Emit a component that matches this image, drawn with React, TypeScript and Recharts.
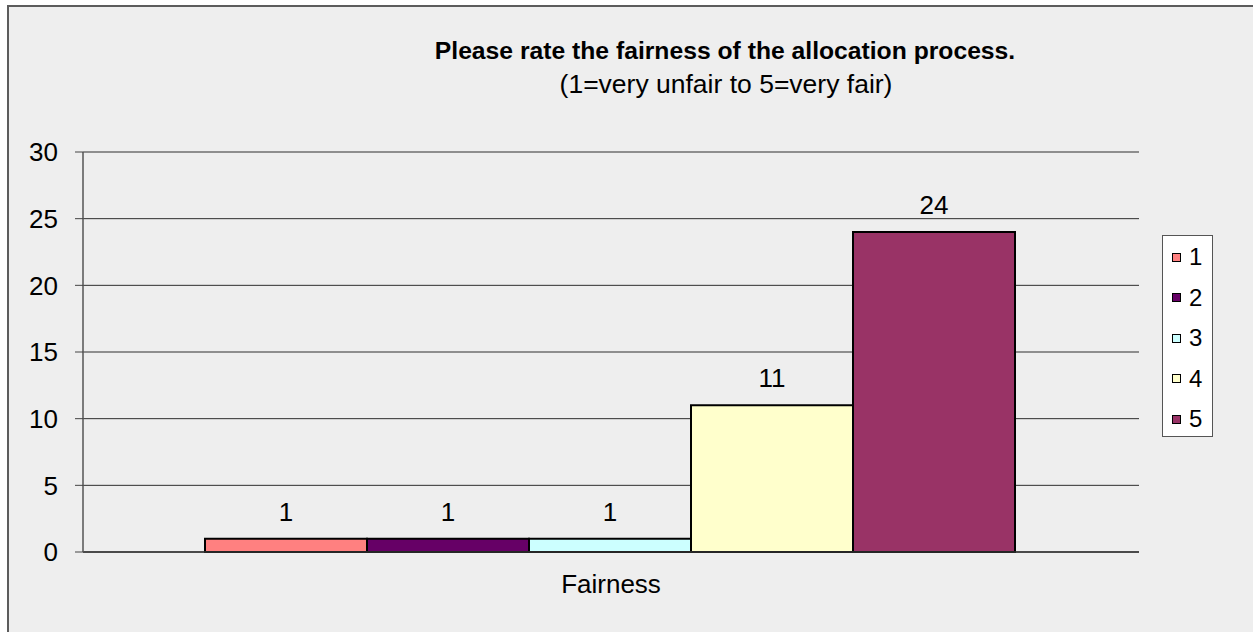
import React from 'react';
import { BarChart, Bar, XAxis, YAxis, CartesianGrid, Legend, LabelList } from 'recharts';

const categories = ['Fairness'];
const ratings = ['1', '2', '3', '4', '5'];
const counts = [1, 1, 1, 11, 24];
const yTicks = [0, 5, 10, 15, 20, 25, 30];
const COLORS = ['#FF8080', '#660066', '#CCFFFF', '#FFFFCC', '#993366'];

const FONT = '"Liberation Sans", Arial, sans-serif';

// one row per category, one key per rating
const data = categories.map((name) => {
  const row: Record<string, string | number> = { name };
  ratings.forEach((r, i) => {
    row[r] = counts[i];
  });
  return row;
});

function LegendBox({ payload }: any) {
  return (
    <div
      style={{
        background: '#fff',
        border: '1px solid #555',
        width: 51,
        height: 202,
        boxSizing: 'border-box',
        paddingTop: 1,
        fontFamily: FONT,
      }}
    >
      {(payload || []).map((p: any) => (
        <div key={p.value} style={{ display: 'flex', alignItems: 'center', height: 40.5, paddingLeft: 9 }}>
          <span
            style={{
              display: 'inline-block',
              width: 7,
              height: 7,
              background: p.color,
              border: '1.5px solid #000',
              marginRight: 8,
            }}
          />
          <span style={{ fontSize: 24, color: '#000', lineHeight: 1 }}>{p.value}</span>
        </div>
      ))}
    </div>
  );
}

function CategoryTick({ x, payload }: any) {
  return (
    <text x={x} y={593} textAnchor="middle" fontSize={26} fontFamily={FONT} fill="#000">
      {payload.value}
    </text>
  );
}

export default function App() {
  return (
    <div style={{ position: 'fixed', left: 0, top: 0, width: 1253, height: 632, overflow: 'hidden', background: '#fff' }}>
      <div
        style={{
          position: 'absolute',
          left: 7,
          top: 5,
          width: 1300,
          height: 700,
          background: '#EEEEEE',
          borderTop: '2px solid #5c5c5c',
          borderLeft: '2px solid #5c5c5c',
        }}
      />
      <div style={{ position: 'absolute', left: 0, top: 0 }}>
        <BarChart
          width={1253}
          height={632}
          data={data}
          margin={{ top: 152, right: 63, bottom: 30, left: 0 }}
          barCategoryGap={122}
          barGap={0}
        >
          <CartesianGrid horizontal vertical={false} stroke="#2e2e2e" strokeWidth={1} />
          <XAxis
            dataKey="name"
            height={50}
            tickLine={false}
            axisLine={{ stroke: '#333', strokeWidth: 1.5 }}
            tick={<CategoryTick />}
          />
          <YAxis
            width={83}
            domain={[0, 30]}
            ticks={yTicks}
            interval={0}
            tickSize={8}
            tickMargin={17}
            tickLine={{ stroke: '#444' }}
            axisLine={{ stroke: '#555', strokeWidth: 1.5 }}
            tick={{ fontSize: 26, fontFamily: FONT, fill: '#000' }}
          />
          <Legend
            layout="vertical"
            align="right"
            verticalAlign="top"
            content={<LegendBox />}
            wrapperStyle={{ position: 'absolute', left: 1162, top: 235, width: 51, height: 202 }}
          />
          {ratings.map((r, i) => (
            <Bar key={r} dataKey={r} name={r} fill={COLORS[i]} stroke="#000" strokeWidth={2} isAnimationActive={false}>
              <LabelList
                dataKey={r}
                position="top"
                offset={18}
                fontSize={26}
                fontFamily={FONT}
                fill="#000"
              />
            </Bar>
          ))}
        </BarChart>
      </div>
      <svg width={1253} height={120} style={{ position: 'absolute', left: 0, top: 0, pointerEvents: 'none' }}>
        <text x={725} y={59} textAnchor="middle" fontSize={24.7} fontWeight="bold" fontFamily={FONT} fill="#000">
          Please rate the fairness of the allocation process.
        </text>
        <text x={726} y={93} textAnchor="middle" fontSize={26.5} fontFamily={FONT} fill="#000">
          (1=very unfair to 5=very fair)
        </text>
      </svg>
    </div>
  );
}
